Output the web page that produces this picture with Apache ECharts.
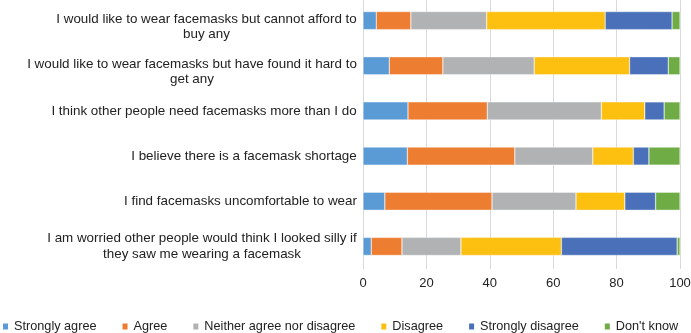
<!DOCTYPE html>
<html>
<head>
<meta charset="utf-8">
<script src="https://cdn.jsdelivr.net/npm/echarts@6/dist/echarts.min.js"></script>
<style>
  html, body { margin: 0; padding: 0; background: #fff; }
  #chart { width: 691px; height: 333px; }
</style>
</head>
<body>
<div id="chart"></div>
<script>
// statements, top to bottom
var statements = [
    'I would like to wear facemasks but cannot afford to\nbuy any',
    'I would like to wear facemasks but have found it hard to\nget any',
    'I think other people need facemasks more than I do',
    'I believe there is a facemask shortage',
    'I find facemasks uncomfortable to wear',
    'I am worried other people would think I looked silly if\nthey saw me wearing a facemask'
];
var seriesNames = ['Strongly agree', 'Agree', 'Neither agree nor disagree', 'Disagree', 'Strongly disagree', "Don't know"];

// percentages per answer, same order as statements
var stronglyAgree    = [4.2, 8.3, 14.2, 14.0, 6.9, 2.6];
var agree            = [10.9, 16.9, 25.0, 33.9, 33.8, 9.7];
var neither          = [23.9, 28.8, 36.0, 24.6, 26.5, 18.6];
var disagree         = [37.4, 30.1, 13.7, 12.8, 15.4, 31.7];
var stronglyDisagree = [21.1, 12.2, 6.1, 4.9, 9.7, 36.5];
var dontKnow         = [2.5, 3.7, 5.0, 9.8, 7.7, 0.9];

var xTicks = [0, 20, 40, 60, 80, 100];

var colors = ['#5b9bd5', '#ed7d31', '#b1b2b3', '#fdc010', '#4970b9', '#6fac46'];
var values = [stronglyAgree, agree, neither, disagree, stronglyDisagree, dontKnow];

var fontFam = '"Liberation Sans", Arial, sans-serif';
var labelSize = 13.4;
// the first two wrapped labels sit a little lower in the original
var labelTopPad = [12, 12, 0, 0, 0, 0];

// measure the longest line of each label so wrapped lines can be centred
var ctx = document.createElement('canvas').getContext('2d');
ctx.font = labelSize + 'px ' + fontFam;
var rich = {};
statements.forEach(function (s, i) {
    var w = 0;
    s.split('\n').forEach(function (line) {
        w = Math.max(w, ctx.measureText(line).width);
    });
    rich['l' + i] = { width: Math.ceil(w), align: 'center', fontSize: labelSize, lineHeight: 15.5,
        fontFamily: fontFam, color: '#222' };
});

var categories = statements.map(function (s, i) {
    return { value: s, textStyle: { padding: [labelTopPad[i], 0, 0, 0] } };
});

var myChart = echarts.init(document.getElementById('chart'));

var series = seriesNames.map(function (name, i) {
    return {
        name: name,
        type: 'bar',
        stack: 'total',
        barWidth: 18,
        itemStyle: { color: colors[i], borderColor: '#fff', borderWidth: 0.4 },
        data: values[i]
    };
});

var option = {
    animation: false,
    grid: { left: 363, right: 11, top: -2, height: 271, outerBoundsMode: 'none' },
    legend: {
        left: 1,
        top: 320,
        padding: 0,
        itemWidth: 7,
        itemHeight: 8,
        itemGap: 24,
        icon: 'rect',
        textStyle: { fontSize: 12.7, color: '#222', fontFamily: fontFam },
        data: seriesNames
    },
    xAxis: {
        type: 'value',
        min: xTicks[0],
        max: xTicks[xTicks.length - 1],
        interval: 20,
        axisLine: { show: false },
        axisTick: { show: false },
        splitLine: { lineStyle: { color: '#d9d9d9', width: 1 } },
        axisLabel: { fontSize: 13, color: '#222', margin: 8, fontFamily: fontFam }
    },
    yAxis: {
        type: 'category',
        inverse: true,
        data: categories,
        axisLine: { show: true, lineStyle: { color: '#d9d9d9' } },
        axisTick: { show: false },
        axisLabel: {
            margin: 6,
            formatter: function (v, idx) {
                return v.split('\n').map(function (line) {
                    return '{l' + idx + '|' + line + '}';
                }).join('\n');
            },
            rich: rich
        }
    },
    series: series
};

myChart.setOption(option);
</script>
</body>
</html>
